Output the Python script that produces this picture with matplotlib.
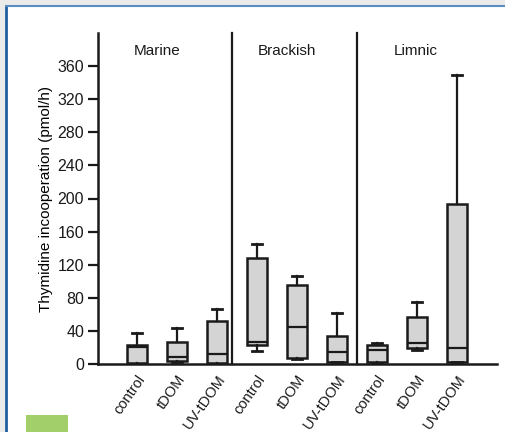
import matplotlib
matplotlib.use("Agg")
import matplotlib.pyplot as plt
from matplotlib.patches import Rectangle

plt.rcParams["font.family"] = ["Liberation Sans", "DejaVu Sans"]
plt.rcParams["text.color"] = "#1a1a1a"

groups = ["Marine", "Brackish", "Limnic"]
treatments = ["control", "tDOM", "UV-tDOM"]

# per box: whisker low, q1, median, q3, whisker high (pmol/h)
whislo = [0, 2, 0, 16, 6, 2, 1, 17, 2]
q1 = [1, 4, 1, 23, 7, 3, 3, 19, 3]
med = [20, 9, 12, 27, 45, 15, 17, 25, 19]
q3 = [23, 26, 52, 128, 96, 34, 23, 57, 193]
whishi = [37, 44, 67, 145, 106, 62, 25, 75, 349]

yticks = list(range(0, 361, 40))

fig = plt.figure(figsize=(5.06, 4.32), dpi=100)
fig.patch.set_facecolor("#ebecea")

# white card with blue border
fig.add_artist(Rectangle((6 / 506, 0), 1, 1 - 6 / 432, transform=fig.transFigure,
                         facecolor="white", edgecolor="none", zorder=-10))
fig.add_artist(plt.Line2D([6 / 506, 6 / 506], [0, 1 - 6 / 432], transform=fig.transFigure,
                          color="#1f5fa0", lw=2, zorder=-9))
fig.add_artist(plt.Line2D([6 / 506, 1], [1 - 6 / 432, 1 - 6 / 432], transform=fig.transFigure,
                          color="#5a8cc0", lw=1.5, zorder=-9))
fig.add_artist(Rectangle((26 / 506, 0), 42 / 506, 17 / 432, transform=fig.transFigure,
                         facecolor="#a3cf6a", edgecolor="none", zorder=-9))

ax = fig.add_axes([98 / 506, 1 - 364 / 432, (497 - 98) / 506, (364 - 33) / 432])
ax.set_facecolor("none")

stats = []
for i in range(len(med)):
    stats.append({"whislo": whislo[i], "q1": q1[i], "med": med[i],
                  "q3": q3[i], "whishi": whishi[i], "fliers": []})
positions = list(range(1, len(med) + 1))
ax.bxp(stats, positions=positions, widths=0.52, patch_artist=True, showfliers=False,
       capwidths=0.25,
       boxprops=dict(facecolor="#d4d4d4", edgecolor="#1a1a1a", linewidth=1.8),
       medianprops=dict(color="#1a1a1a", linewidth=1.6),
       whiskerprops=dict(color="#1a1a1a", linewidth=1.6),
       capprops=dict(color="#1a1a1a", linewidth=2))

for xd in (3.38, 6.49):
    ax.plot([xd, xd], [0, 400], color="#1a1a1a", lw=1.6, clip_on=False)

for gx, name in zip([1.5, 4.75, 7.97], groups):
    ax.text(gx, 378, name, ha="center", va="center", fontsize=11)

ax.set_xlim(0.025, 10.0)
ax.set_ylim(0, 400)
ax.set_yticks(yticks)
ax.set_yticklabels([str(t) for t in yticks], fontsize=11.5)
ax.set_xticks(positions)
ax.set_xticklabels(treatments * len(groups), rotation=55, ha="right",
                   rotation_mode="anchor", fontsize=10.5)
ax.tick_params(axis="x", length=0, pad=6, colors="#1a1a1a")
ax.tick_params(axis="y", length=7, width=1.6, direction="out", pad=3, colors="#1a1a1a")
for s in ("top", "right"):
    ax.spines[s].set_visible(False)
ax.spines["left"].set_linewidth(1.8)
ax.spines["bottom"].set_linewidth(1.8)
ax.spines["left"].set_color("#1a1a1a")
ax.spines["bottom"].set_color("#1a1a1a")
ax.set_ylabel("Thymidine incooperation (pmol/h)", fontsize=11, labelpad=3)

fig.savefig("out.png", dpi=100, facecolor=fig.get_facecolor())
